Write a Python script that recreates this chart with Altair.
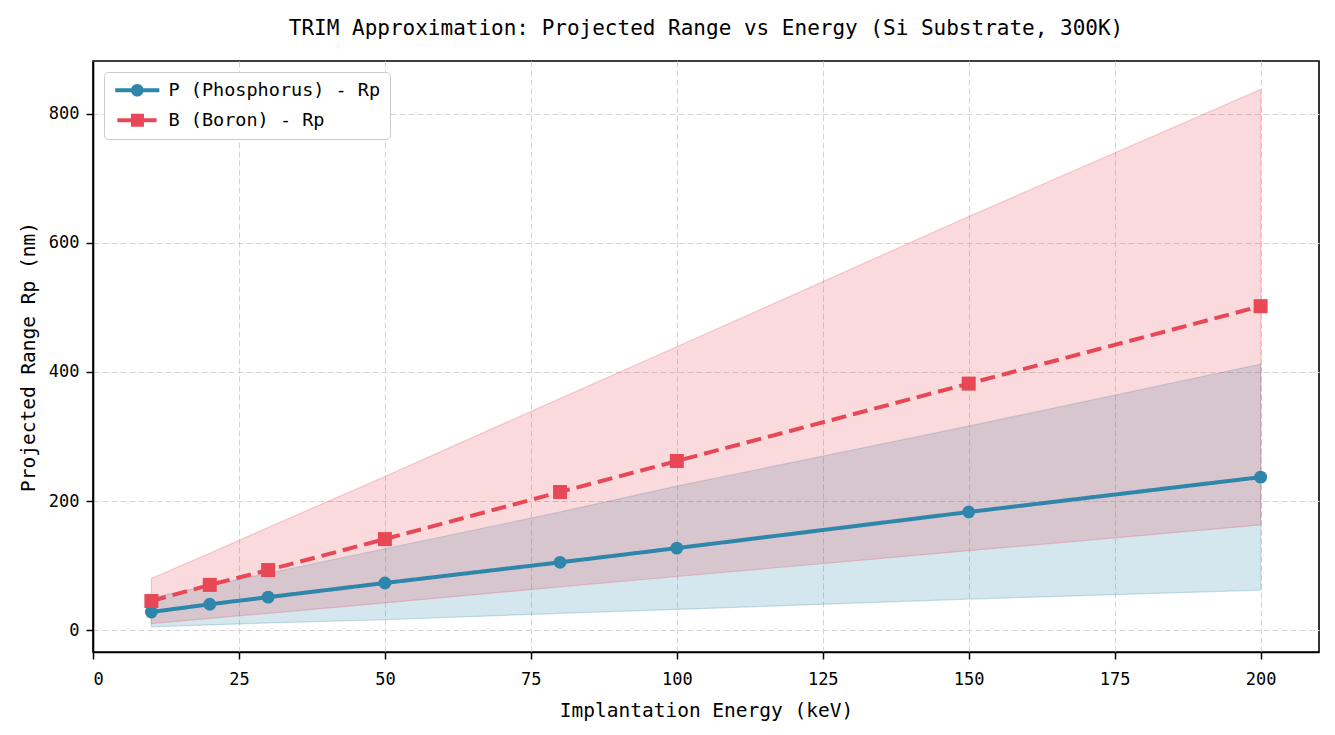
import altair as alt
import pandas as pd

# ---- data ----
energy = [10, 20, 30, 50, 80, 100, 150, 200]

p_rp = [28, 40, 51, 73, 105, 127, 183, 237]
p_upper = [50, 69, 88, 126, 183, 223, 316, 412]
p_lower = [5, 8, 11, 16, 26, 32, 48, 62]

b_rp = [45, 70, 93, 141, 214, 262, 382, 502]
b_upper = [80, 119, 159, 238, 359, 439, 641, 838]
b_lower = [10, 18, 26, 42, 67, 83, 123, 163]

series_names = ["P (Phosphorus) - Rp", "B (Boron) - Rp"]
series_colors = ["#2E86AB", "#E84855"]

x_ticks = [0, 25, 50, 75, 100, 125, 150, 175, 200]
y_ticks = [0, 200, 400, 600, 800]

FONT = "DejaVu Sans Mono"

rows = []
for i, e in enumerate(energy):
    rows.append({"energy": e, "series": series_names[0], "rp": p_rp[i], "lo": p_lower[i], "hi": p_upper[i]})
for i, e in enumerate(energy):
    rows.append({"energy": e, "series": series_names[1], "rp": b_rp[i], "lo": b_lower[i], "hi": b_upper[i]})
df = pd.DataFrame(rows)

xscale = alt.Scale(domain=[0, 210], nice=False, zero=False)
yscale = alt.Scale(domain=[-34, 882], nice=False, zero=False)
color_scale = alt.Scale(domain=series_names, range=series_colors)

x_axis = alt.Axis(values=x_ticks, title="Implantation Energy (keV)", labelPadding=12, titlePadding=14)
y_axis = alt.Axis(values=y_ticks, title="Projected Range Rp (nm)")

base = alt.Chart(df)

bands = base.mark_area(orient="vertical", fillOpacity=0.2, strokeOpacity=0.25, strokeWidth=1.2).encode(
    x=alt.X("energy:Q", scale=xscale, axis=x_axis),
    y=alt.Y("lo:Q", scale=yscale, axis=y_axis),
    y2="hi:Q",
    color=alt.Color("series:N", scale=color_scale, legend=None),
    stroke=alt.Stroke("series:N", scale=color_scale, legend=None),
)

lines = base.mark_line(strokeWidth=4).encode(
    x=alt.X("energy:Q", scale=xscale),
    y=alt.Y("rp:Q", scale=yscale),
    color=alt.Color("series:N", scale=color_scale, legend=None),
    strokeDash=alt.StrokeDash("series:N", scale=alt.Scale(domain=series_names, range=[[1, 0], [15, 7]]), legend=None),
)

points = base.mark_point(filled=True, opacity=1).encode(
    x=alt.X("energy:Q", scale=xscale),
    y=alt.Y("rp:Q", scale=yscale),
    color=alt.Color("series:N", scale=color_scale, legend=None),
    shape=alt.Shape("series:N", scale=alt.Scale(domain=series_names, range=["circle", "square"]), legend=None),
    size=alt.Size("series:N", scale=alt.Scale(domain=series_names, range=[165, 196]), legend=None),
)

# legend-only layer (no marks drawn), with custom line+marker symbols
p_sym = ("M -1 -0.29 L 5.3 -0.29 L 5.3 0.29 L -1 0.29 Z "
         "M 1.25 0 A 0.9 0.9 0 1 1 3.05 0 A 0.9 0.9 0 1 1 1.25 0 Z")
b_sym = ("M -0.7 -0.29 L 4.9 -0.29 L 4.9 0.29 L -0.7 0.29 Z "
         "M 1.25 -0.93 L 3.1 -0.93 L 3.1 0.93 L 1.25 0.93 Z")

legend_layer = base.mark_point(filled=True, opacity=1).encode(
    x=alt.X("energy:Q", scale=xscale),
    y=alt.Y("rp:Q", scale=yscale),
    color=alt.Color("series:N", scale=color_scale, legend=alt.Legend(title=None)),
    shape=alt.Shape("series:N", scale=alt.Scale(domain=series_names, range=[p_sym, b_sym]),
                    legend=alt.Legend(title=None)),
).transform_filter(alt.datum.energy < 0)

chart = alt.layer(bands, lines, points, legend_layer).resolve_scale(
    shape="independent", color="independent", stroke="independent"
).properties(
    width=1226,
    height=591,
    padding={"left": 10, "top": 10, "right": 5, "bottom": 5},
    title=alt.TitleParams(
        "TRIM Approximation: Projected Range vs Energy (Si Substrate, 300K)",
        font=FONT, fontSize=21, fontWeight="normal", color="black", offset=22,
    ),
).configure_view(
    stroke="black", strokeWidth=1.6
).configure_axis(
    labelFont=FONT, labelFontSize=17, labelColor="black",
    titleFont=FONT, titleFontSize=19.5, titleFontWeight="normal", titleColor="black",
    domainColor="black", domainWidth=1.6,
    tickColor="black", tickWidth=1.5, tickSize=7,
    grid=True, gridColor="#d4d4d4", gridDash=[6, 3], gridWidth=1,
    labelPadding=7, titlePadding=10,
).configure_legend(
    orient="top-left", offset=11, padding=9,
    fillColor="white", strokeColor="#cccccc", cornerRadius=4,
    labelFont=FONT, labelFontSize=18.5, labelColor="black",
    symbolSize=196, labelOffset=37, rowPadding=11, labelLimit=400,
)

chart.save("out.html", embed_options={"renderer": "svg", "actions": False})
